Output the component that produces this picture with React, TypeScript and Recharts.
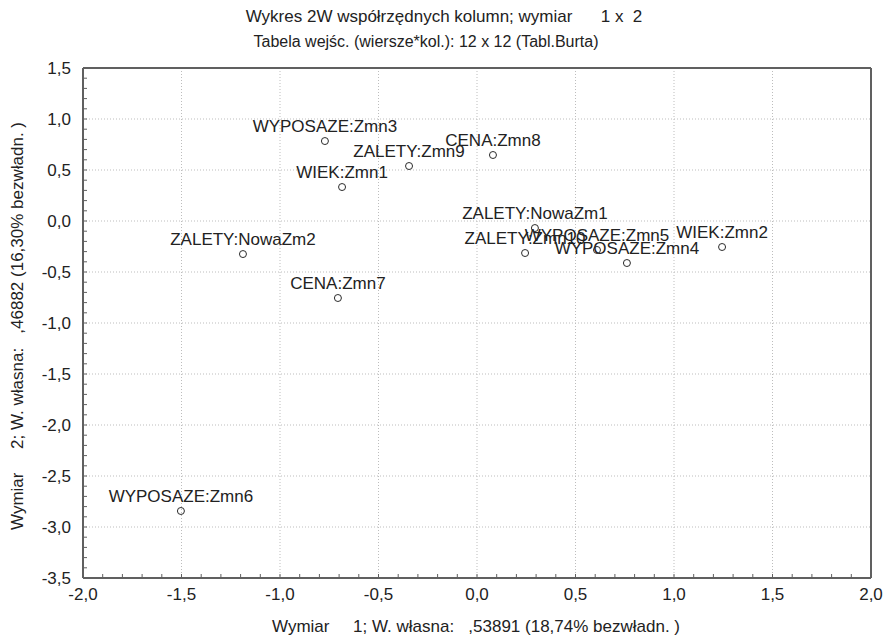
import React from 'react';
import { ScatterChart, Scatter, XAxis, YAxis, CartesianGrid } from 'recharts';

const pointNames = [
  'WYPOSAZE:Zmn3', 'CENA:Zmn8', 'ZALETY:Zmn9', 'WIEK:Zmn1', 'ZALETY:NowaZm1', 'ZALETY:Zmn10',
  'WYPOSAZE:Zmn5', 'WYPOSAZE:Zmn4', 'WIEK:Zmn2', 'ZALETY:NowaZm2', 'CENA:Zmn7', 'WYPOSAZE:Zmn6',
];
const dim1 = [-0.772, 0.081, -0.345, -0.685, 0.294, 0.244, 0.609, 0.761, 1.244, -1.188, -0.706, -1.503];
const dim2 = [0.784, 0.647, 0.539, 0.333, -0.069, -0.314, -0.284, -0.412, -0.255, -0.324, -0.755, -2.843];

const xMajorTicks = [-2, -1.5, -1, -0.5, 0, 0.5, 1, 1.5, 2];
const yMajorTicks = [-3.5, -3, -2.5, -2, -1.5, -1, -0.5, 0, 0.5, 1, 1.5];
const minorStep = 0.1;

const title1 = 'Wykres 2W współrzędnych kolumn; wymiar      1 x  2';
const title2 = 'Tabela wejśc. (wiersze*kol.): 12 x 12 (Tabl.Burta)';
const xTitle = 'Wymiar     1; W. własna:   ,53891 (18,74% bezwładn. )';
const yTitle = 'Wymiar     2; W. własna:   ,46882 (16,30% bezwładn. )';

const makeMinor = (lo: number, hi: number) => {
  const n = Math.round((hi - lo) / minorStep);
  return Array.from({ length: n + 1 }, (_, i) => Math.round((lo + i * minorStep) * 10) / 10);
};
const xMinorTicks = makeMinor(xMajorTicks[0], xMajorTicks[xMajorTicks.length - 1]);
const yMinorTicks = makeMinor(yMajorTicks[0], yMajorTicks[yMajorTicks.length - 1]);

const data = pointNames.map((name, i) => ({ name, x: dim1[i], y: dim2[i] }));

const isMajor = (v: number) => Math.abs(v * 2 - Math.round(v * 2)) < 1e-9;
const fmt = (v: number) => (isMajor(v) ? (Math.round(v * 10) / 10).toFixed(1).replace('.', ',') : '');

const FONT = '"Liberation Sans", Arial, sans-serif';
const TEXT = '#222222';
const FRAME = '#606060';

const PointShape = (props: any) => {
  const { cx, cy, payload } = props;
  if (cx == null || cy == null) return null;
  return (
    <g>
      <circle cx={cx} cy={cy} r={3.5} fill="none" stroke="#2a2a2a" strokeWidth={1} />
      <text x={cx} y={cy - 9} textAnchor="middle" fontSize={17} fill={TEXT} style={{ fontFamily: FONT }}>
        {payload.name}
      </text>
    </g>
  );
};

export default function App() {
  const axisLine = { stroke: FRAME, strokeWidth: 2 };
  const tickLine = { stroke: FRAME, strokeWidth: 1 };
  return (
    <div style={{ position: 'absolute', left: 0, top: 0, width: 886, height: 637, background: '#fff', fontFamily: FONT, color: TEXT }}>
      <div style={{ position: 'absolute', left: 444, top: 7, transform: 'translateX(-50%)', fontSize: 17, lineHeight: '20px', whiteSpace: 'pre' }}>{title1}</div>
      <div style={{ position: 'absolute', left: 426, top: 32, transform: 'translateX(-50%)', fontSize: 16, lineHeight: '20px', whiteSpace: 'pre' }}>{title2}</div>
      <div style={{ position: 'absolute', left: 476, top: 617, transform: 'translateX(-50%)', fontSize: 17, lineHeight: '20px', whiteSpace: 'pre' }}>{xTitle}</div>
      <div style={{ position: 'absolute', left: 18, top: 326, transform: 'translate(-50%,-50%) rotate(-90deg)', fontSize: 17, lineHeight: '20px', whiteSpace: 'pre' }}>{yTitle}</div>
      <div style={{ position: 'absolute', left: 0, top: 0 }}>
        <ScatterChart width={886} height={637} margin={{ top: 67, right: 14, bottom: 29, left: 0 }} style={{ fontFamily: FONT }}>
          <CartesianGrid xAxisId="x" yAxisId="y" verticalValues={xMajorTicks} horizontalValues={yMajorTicks} stroke="#bdbdbd" strokeDasharray="1 2" />
          <XAxis
            xAxisId="x" dataKey="x" type="number" domain={[-2, 2]} ticks={xMinorTicks} interval={0}
            allowDataOverflow height={30} orientation="bottom"
            axisLine={axisLine} tickLine={tickLine} tickSize={-4} tickMargin={14}
            tickFormatter={fmt} tick={{ fill: TEXT, fontSize: 17 }}
          />
          <XAxis
            xAxisId="t" dataKey="x" type="number" domain={[-2, 2]} ticks={xMinorTicks} interval={0}
            allowDataOverflow height={1} orientation="top"
            axisLine={axisLine} tickLine={tickLine} tickSize={-4} tick={false}
          />
          <YAxis
            yAxisId="y" dataKey="y" type="number" domain={[-3.5, 1.5]} ticks={yMinorTicks} interval={0}
            allowDataOverflow width={83} orientation="left"
            axisLine={axisLine} tickLine={tickLine} tickSize={-4} tickMargin={16}
            tickFormatter={fmt} tick={{ fill: TEXT, fontSize: 17 }}
          />
          <YAxis
            yAxisId="r" dataKey="y" type="number" domain={[-3.5, 1.5]} ticks={yMinorTicks} interval={0}
            allowDataOverflow width={1} orientation="right"
            axisLine={axisLine} tickLine={tickLine} tickSize={-4} tick={false}
          />
          <Scatter data={data} xAxisId="x" yAxisId="y" shape={PointShape} isAnimationActive={false} />
        </ScatterChart>
      </div>
    </div>
  );
}
